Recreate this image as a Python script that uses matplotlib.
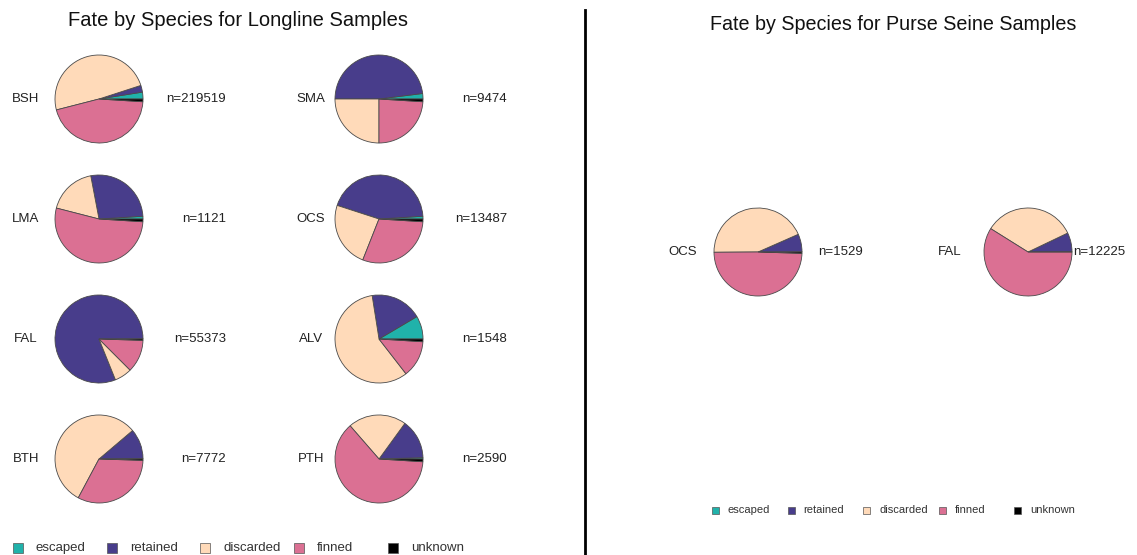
import matplotlib
matplotlib.use("Agg")
import matplotlib.pyplot as plt
from matplotlib.patches import Rectangle

plt.rcParams['font.family'] = ['Liberation Sans', 'DejaVu Sans']

fates = ["escaped", "retained", "discarded", "finned", "unknown"]
fate_colors = ["lightseagreen", "darkslateblue", "peachpuff", "palevioletred", "black"]

# Longline samples (percent of each fate)
ll_species = ["BSH", "SMA", "LMA", "OCS", "FAL", "ALV", "BTH", "PTH"]
ll_n = [219519, 9474, 1121, 13487, 55373, 1548, 7772, 2590]
ll_escaped = [2.5, 2.0, 1.0, 1.0, 0.1, 8.5, 0.2, 0.5]
ll_retained = [2.5, 48.0, 27.0, 44.0, 81.0, 19.0, 11.0, 14.5]
ll_discarded = [49.0, 25.0, 18.0, 24.0, 6.4, 58.0, 56.0, 21.4]
ll_finned = [45.0, 24.0, 53.0, 30.0, 12.0, 13.5, 32.3, 62.6]
ll_unknown = [1.0, 1.0, 1.0, 1.0, 0.5, 1.0, 0.5, 1.0]

# Purse seine samples
ps_species = ["OCS", "FAL"]
ps_n = [1529, 12225]
ps_escaped = [0.1, 0.1]
ps_retained = [6.5, 7.0]
ps_discarded = [43.5, 34.0]
ps_finned = [49.4, 58.9]
ps_unknown = [0.5, 0.0]

W, H = 1137, 555
fig = plt.figure(figsize=(W / 100, H / 100), dpi=100)
ax = fig.add_axes([0, 0, 1, 1])

def Y(py):
    return H - py

R = 44
wp = dict(edgecolor="#4a4a4a", linewidth=0.6)

# Longline grid
col_x = [99, 379]
row_y = [99, 219, 339, 459]
lab_x = [26, 311]
n_x = [226, 507]
for i, sp in enumerate(ll_species):
    c = i % 2
    r = i // 2
    vals = [ll_escaped[i], ll_retained[i], ll_discarded[i], ll_finned[i], ll_unknown[i]]
    cx, cy = col_x[c], Y(row_y[r])
    ax.pie(vals, colors=fate_colors, startangle=0, counterclock=True,
           center=(cx, cy), radius=R, wedgeprops=wp)
    ax.text(lab_x[c], cy, sp, ha="center", va="center", fontsize=9.5, color="#222222")
    ax.text(n_x[c], cy, f"n={ll_n[i]}", ha="right", va="center", fontsize=9.5, color="#222222")

# Purse seine
ps_cx = [758, 1028]
ps_lab_x = [683, 950]
ps_n_x = [818, 1073]
for i, sp in enumerate(ps_species):
    vals = [ps_escaped[i], ps_retained[i], ps_discarded[i], ps_finned[i], ps_unknown[i]]
    cx, cy = ps_cx[i], Y(252)
    ax.pie(vals, colors=fate_colors, startangle=0, counterclock=True,
           center=(cx, cy), radius=R, wedgeprops=wp)
    ax.text(ps_lab_x[i], cy, sp, ha="center", va="center", fontsize=9.5, color="#222222")
    ax.text(ps_n_x[i], cy, f"n={ps_n[i]}", ha="left", va="center", fontsize=9.5, color="#222222")

# Titles
ax.text(238, Y(21), "Fate by Species for Longline Samples", ha="center", va="center",
        fontsize=14.5, color="#111111")
ax.text(893, Y(25), "Fate by Species for Purse Seine Samples", ha="center", va="center",
        fontsize=14.2, color="#111111")

# Divider
ax.plot([585, 585], [Y(10), Y(556)], color="black", linewidth=2)

# Legends (drawn manually, R style evenly spaced)
def legend(x0, py, step, sq, fs, toff):
    for k, (f, col) in enumerate(zip(fates, fate_colors)):
        x = x0 + k * step
        ax.add_patch(Rectangle((x, Y(py) - sq / 2), sq, sq, facecolor=col,
                               edgecolor="#555555", linewidth=0.5))
        ax.text(x + toff, Y(py), f, ha="left", va="center", fontsize=fs, color="#333333")

legend(13, 548, 93.7, 10, 9.5, 23)
legend(712, 510, 75.5, 7, 8, 16)

ax.set_xlim(0, W)
ax.set_ylim(0, H)
ax.set_aspect("auto")
ax.axis("off")

fig.savefig("out.png", dpi=100, facecolor="white")
